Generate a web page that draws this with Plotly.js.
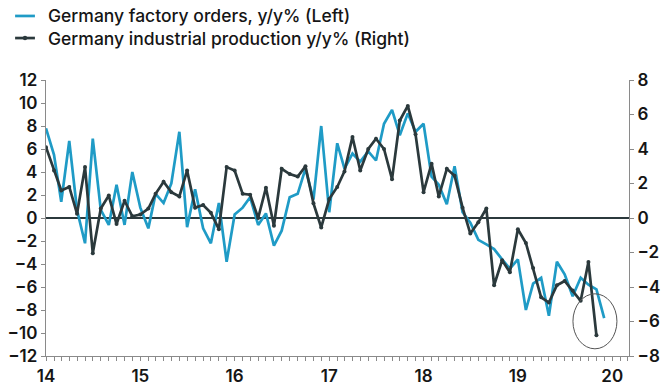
<!DOCTYPE html>
<html>
<head>
<meta charset="utf-8">
<script src="https://cdn.plot.ly/plotly-3.0.1.min.js"></script>
<style>
html,body{margin:0;padding:0;background:#fff;}
#chart{width:669px;height:385px;}
</style>
</head>
<body>
<div id="chart"></div>
<script>
// Monthly series starting Jan 2014
var startYear = 2014;
var orderNames = "Germany factory orders, y/y% (Left)";
var ipNames = "Germany industrial production y/y% (Right)";

// Germany factory orders, y/y % (left axis), Jan 2014 - Dec 2019
var factoryOrders = [
  7.8, 5.5, 1.4, 6.7, 0.7, -2.2, 6.9, 0.7, -0.6, 2.9, -0.6, 4.0,
  0.9, -0.9, 2.1, 1.3, 3.0, 7.5, -0.8, 2.5, -0.9, -2.2, 1.3, -3.8,
  0.3, 0.9, 1.8, -0.6, 0.4, -2.4, -1.1, 1.8, 2.1, 4.3, 1.6, 8.0,
  0.5, 6.5, 4.3, 5.6, 4.9, 5.8, 5.0, 8.2, 9.4, 7.2, 9.1, 7.5,
  8.2, 3.6, 2.9, 1.2, 4.5, 0.5, -0.4, -1.9, -2.3, -2.7, -3.6, -4.4,
  -3.6, -8.0, -5.7, -5.2, -8.5, -3.8, -4.9, -6.8, -5.2, -5.8, -6.2, -8.7
];

// Germany industrial production, y/y % (right axis), Jan 2014 - Nov 2019
var industrialProduction = [
  4.1, 2.75, 1.6, 1.8, 0.25, 2.95, -2.05, 0.55, 1.3, -0.35, 1.0, 0.1,
  0.2, 0.55, 1.4, 2.1, 1.5, 1.25, 2.75, 0.6, 0.75, 0.3, -0.65, 2.95,
  2.75, 1.4, 1.35, 0.0, 1.75, -0.45, 2.85, 2.55, 2.4, 3.0, 0.85, -0.55,
  1.1, 1.8, 2.7, 4.7, 2.75, 4.0, 4.6, 4.0, 2.25, 5.65, 6.5, 4.85,
  1.5, 3.15, 1.25, 2.85, 2.45, 0.6, -0.9, -0.25, 0.55, -3.9, -2.45, -3.15,
  -0.65, -1.45, -2.9, -4.6, -4.9, -3.9, -3.65, -4.2, -4.8, -2.55, -6.8
];

var leftTicks = [-12, -10, -8, -6, -4, -2, 0, 2, 4, 6, 8, 10, 12];
var rightTicks = [-8, -6, -4, -2, 0, 2, 4, 6, 8];
var yearLabels = ["14", "15", "16", "17", "18", "19", "20"];

function monthDates(n) {
  var out = [];
  for (var i = 0; i < n; i++) {
    var y = startYear + Math.floor(i / 12);
    var m = (i % 12) + 1;
    out.push(y + "-" + (m < 10 ? "0" + m : m) + "-01");
  }
  return out;
}
var ordersDates = monthDates(factoryOrders.length);
var ipDates = monthDates(industrialProduction.length);
var yearTickVals = yearLabels.map(function (s) { return (2000 + parseInt(s, 10)) + "-01-01"; });

var BLUE = "#1f9bc6";
var DARK = "#2b393c";
var TEXT = "#151515";
var AXIS = "#8a8a8a";
var FONT = "Inter, 'Liberation Sans', Arial, sans-serif";

var traces = [
  {
    x: ordersDates, y: factoryOrders, name: orderNames,
    type: "scatter", mode: "lines", yaxis: "y",
    line: {color: BLUE, width: 2.7}, showlegend: false
  },
  {
    x: ipDates, y: industrialProduction, name: ipNames,
    type: "scatter", mode: "lines+markers", yaxis: "y2",
    line: {color: DARK, width: 2.7},
    marker: {color: DARK, size: 4}, showlegend: false
  }
];

var lastIdx = industrialProduction.length - 1;
var tickFont = {family: FONT, size: 17, color: TEXT, weight: 600};
var legendFont = {family: FONT, size: 17.5, color: TEXT, weight: 500};

// Manual legend (paper coordinates outside the plot area)
var LEG_SYM_X0 = -0.053, LEG_SYM_X1 = -0.019, LEG_SYM_XC = -0.036;
var LEG_Y1 = 1.232, LEG_Y2 = 1.152;

var layout = {
  width: 669, height: 385,
  margin: {l: 46, r: 40, t: 80, b: 29, pad: 0},
  paper_bgcolor: "#fff", plot_bgcolor: "#fff",
  font: {family: FONT, size: 16, color: TEXT},
  showlegend: false,
  xaxis: {
    type: "date",
    range: ["2014-01-01", "2020-03-06"],
    tickvals: yearTickVals, ticktext: yearLabels,
    ticks: "outside", ticklen: 4, tickcolor: AXIS, tickwidth: 1,
    minor: {dtick: "M1", ticks: "outside", ticklen: 4, tickcolor: AXIS, tickwidth: 1, showgrid: false},
    showline: true, linecolor: AXIS, linewidth: 1.2,
    showgrid: false, zeroline: false,
    tickfont: tickFont,
    fixedrange: true
  },
  yaxis: {
    range: [-12, 12], tickvals: leftTicks,
    ticks: "outside", ticklen: 4, tickcolor: AXIS,
    showline: true, linecolor: AXIS, linewidth: 1.2,
    showgrid: false,
    zeroline: true, zerolinecolor: DARK, zerolinewidth: 1.5,
    tickfont: tickFont,
    fixedrange: true
  },
  yaxis2: {
    range: [-8, 8], tickvals: rightTicks,
    overlaying: "y", side: "right",
    ticks: "outside", ticklen: 4, tickcolor: AXIS,
    showline: true, linecolor: AXIS, linewidth: 1.2,
    showgrid: false, zeroline: false,
    tickfont: tickFont,
    fixedrange: true
  },
  shapes: [
    {
      type: "circle", xref: "x", yref: "y2",
      xsizemode: "pixel", ysizemode: "pixel",
      xanchor: ipDates[lastIdx], yanchor: industrialProduction[lastIdx],
      x0: -23.5, x1: 20.5, y0: -13.5, y1: 41.5,
      line: {color: "#555", width: 1}
    },
    {
      type: "line", xref: "paper", yref: "paper",
      x0: LEG_SYM_X0, x1: LEG_SYM_X1, y0: LEG_Y1, y1: LEG_Y1,
      line: {color: BLUE, width: 2.7}
    },
    {
      type: "line", xref: "paper", yref: "paper",
      x0: LEG_SYM_X0, x1: LEG_SYM_X1, y0: LEG_Y2, y1: LEG_Y2,
      line: {color: DARK, width: 2.7}
    },
    {
      type: "circle", xref: "paper", yref: "paper",
      xsizemode: "pixel", ysizemode: "pixel",
      xanchor: LEG_SYM_XC, yanchor: LEG_Y2,
      x0: -2.2, x1: 2.2, y0: -2.2, y1: 2.2,
      fillcolor: DARK, line: {color: DARK, width: 0}
    }
  ],
  annotations: [
    {
      xref: "paper", yref: "paper", x: 0, y: LEG_Y1,
      xanchor: "left", yanchor: "middle", showarrow: false,
      text: orderNames, font: legendFont
    },
    {
      xref: "paper", yref: "paper", x: 0, y: LEG_Y2,
      xanchor: "left", yanchor: "middle", showarrow: false,
      text: ipNames, font: legendFont
    }
  ]
};

Plotly.newPlot("chart", traces, layout, {displayModeBar: false, staticPlot: true});
</script>
</body>
</html>
